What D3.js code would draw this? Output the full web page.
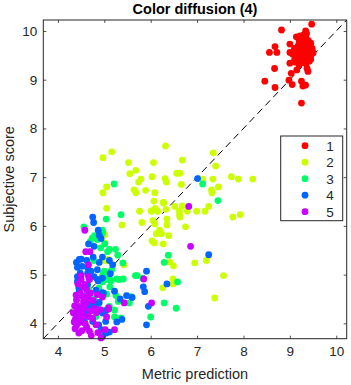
<!DOCTYPE html>
<html><head><meta charset="utf-8">
<script src="https://cdn.jsdelivr.net/npm/d3@7"></script>
<style>html,body{margin:0;padding:0;background:#fff;}svg{display:block;font-family:"Liberation Sans",Arial,sans-serif;}</style>
</head><body>
<svg id="chart" width="351" height="385"></svg>
<script>
const title = "Color diffusion (4)";
const xLabel = "Metric prediction";
const yLabel = "Subjective score";
const xTicks = [4,5,6,7,8,9,10];
const yTicks = [4,5,6,7,8,9,10];
const axisDomain = [3.685, 10.225];
const groupNames = ["1","2","3","4","5"];
const groupColors = ["#ff0000","#ccff00","#00ff66","#0066ff","#cc00ff"];

const g1x = [9.47,8.82,9.34,8.68,8.56,8.72,9.0,8.67,8.46,8.68,8.98,9.05,9.25,9.28,9.34,9.0,9.03,9.15,9.14,9.0,9.39,9.25,9.37,9.1,
 9.22,9.3,9.35,9.4,9.25,9.45,9.32,9.18,9.28,9.38,9.48,9.2,9.3,9.42,9.25,9.35,9.45,9.15,9.28,9.38,9.22,9.32,9.42,9.12,9.25,9.35,9.2,9.45,9.5,9.33,9.27,9.36,9.4,9.3,9.18,9.1,9.24,9.44,9.34,9.29,9.41,9.16,9.06,9.48,9.2];
const g1y = [10.14,10.02,10.0,9.68,9.56,9.56,9.73,9.23,8.97,8.84,8.99,8.90,8.52,8.87,8.89,9.34,9.13,9.2,9.88,9.56,9.17,8.97,9.23,9.4,
 9.9,9.92,9.85,9.8,9.78,9.75,9.72,9.7,9.68,9.66,9.64,9.62,9.6,9.58,9.55,9.53,9.5,9.5,9.48,9.45,9.43,9.4,9.38,9.36,9.35,9.32,9.3,9.42,9.55,9.62,9.82,9.95,9.7,9.5,9.58,9.64,9.66,9.68,9.77,9.42,9.48,9.44,9.52,9.6,9.8];

const g2x = [6.32,5.16,4.97,5.52,6.06,6.68,7.35,7.40,5.68,5.55,6.56,6.63,6.03,5.79,6.31,6.34,5.74,5.05,4.97,6.66,7.12,7.74,7.89,8.20,7.34,7.31,7.32,7.46,5.64,5.68,5.89,6.09,5.05,6.07,6.27,6.68,6.52,6.02,6.10,6.15,6.33,5.76,6.62,6.79,6.99,7.17,7.25,6.62,6.63,5.81,6.05,6.35,6.09,6.35,5.38,6.75,7.77,7.93,6.19,6.12,6.23,6.39,6.03,6.27,5.01,5.02,6.41,6.49,6.95,7.20,5.42,7.57,6.48,6.48,6.26,7.38,5.10,6.08,6.01,6.22,6.28,5.01,5.08];
const g2y = [7.64,7.52,7.40,7.30,7.30,7.35,7.50,7.23,7.14,7.07,7.08,7.08,7.01,6.96,6.97,6.90,6.90,6.80,6.68,6.85,6.96,7.01,6.96,6.96,6.96,6.74,6.68,6.80,6.74,6.68,6.73,6.68,6.36,6.51,6.48,6.41,6.40,6.30,6.36,6.30,6.34,6.30,6.30,6.30,6.30,6.30,6.40,6.23,6.18,6.07,6.11,6.14,6.04,6.02,6.02,5.98,6.18,6.23,5.91,5.84,5.84,5.80,5.69,5.63,5.82,5.28,5.26,5.18,5.24,5.29,5.20,4.98,4.91,4.81,4.73,4.52,5.29,5.65,6.31,5.85,6.47,5.65,5.31];

const g3x = [5.21,7.12,7.45,5.36,5.04,4.56,4.96,4.96,4.79,5.01,5.11,5.24,5.07,5.29,6.38,4.77,5.40,6.29,5.67,5.71,6.58,5.41,5.27,4.98,5.04,5.14,4.96,4.88,4.66,5.58,5.54,5.25,6.29,6.55,6.00,5.11,5.22,4.82,5.22,4.98,4.63,4.78,5.83,4.68,5.36,5.0,4.96,5.06,5.15,5.32,4.74,4.70,4.85,5.16,4.92,4.88,5.05,4.72,5.3,5.12];
const g3y = [6.86,6.86,6.52,6.23,6.14,5.98,5.91,5.85,5.80,5.63,5.52,5.52,5.47,5.40,5.40,5.29,5.24,5.25,4.98,4.98,4.85,4.91,4.91,5.03,4.96,4.87,4.85,4.72,4.68,4.55,4.42,4.57,4.42,4.31,4.13,4.35,4.27,4.14,4.13,4.27,4.21,4.50,4.92,4.91,4.11,5.07,4.97,4.90,4.88,4.90,5.75,5.68,5.72,5.10,5.55,4.4,4.6,4.35,4.45,4.75];

const g4x = [7.01,4.75,4.77,4.87,4.89,4.93,4.66,4.78,7.25,4.50,4.40,4.62,4.89,5.13,5.91,5.84,5.87,6.35,5.48,5.60,5.34,5.22,5.95,5.91,5.38,5.27,5.11,5.04,4.88,4.96,4.82,4.89,4.82,4.87,4.98,4.59,4.71,4.46,4.42,4.48,4.64,4.66,4.46,4.75,4.57,4.96,4.76,4.46,4.52,4.42,4.64,4.71,4.96,5.11,5.18,4.42,4.78,4.96,4.46,4.45,4.64,4.85,4.96,4.81,5.03,4.64,4.57,4.93,5.03,4.85];
const g4y = [6.97,6.18,6.07,5.91,5.81,5.74,5.63,5.58,5.41,5.32,5.25,5.29,5.25,5.02,5.07,4.75,4.65,4.81,4.57,4.53,4.50,4.66,4.35,3.97,4.08,4.03,3.82,3.80,3.97,4.21,4.32,4.43,4.68,4.87,4.62,4.55,4.42,4.66,4.86,5.03,5.03,4.35,4.11,4.04,4.01,3.73,5.36,5.31,5.17,5.15,5.14,5.07,5.36,5.29,5.20,4.96,4.96,4.93,4.90,4.73,4.79,4.90,4.63,4.36,4.26,4.24,4.04,3.87,4.04,5.1];

const g5x = [4.58,6.82,6.86,4.60,4.69,5.85,6.02,5.43,4.66,4.50,4.66,4.43,4.53,4.62,4.39,4.52,4.62,4.36,4.46,4.57,4.33,4.43,4.55,4.66,4.35,4.45,4.59,4.82,4.37,4.52,4.68,4.72,4.93,4.86,5.02,5.22,4.85,4.96,5.09,4.76,4.83,4.91,4.50,4.68,4.54,4.40,4.48,4.60,4.70,4.38,4.50,4.62,4.40,4.75,4.58,4.70,4.45,4.78,4.65,4.55,4.42,5.05,5.09];
const g5y = [5.91,6.40,5.58,5.47,5.47,4.91,4.42,4.42,5.20,4.98,4.96,4.81,4.75,4.68,4.58,4.56,4.49,4.36,4.35,4.32,4.22,4.18,4.16,4.14,4.03,4.01,3.99,3.97,3.89,3.85,3.84,3.75,3.70,3.81,3.87,3.87,4.59,4.54,4.29,4.47,4.22,4.28,4.90,4.90,4.26,4.48,4.62,4.40,4.25,4.10,4.08,3.92,3.95,4.10,4.80,4.62,3.80,4.30,4.55,4.45,4.28,4.13,4.32];

const groupsX = [g1x,g2x,g3x,g4x,g5x];
const groupsY = [g1y,g2y,g3y,g4y,g5y];

const svg = d3.select("#chart");
const L = 43.3, R = 346.7, T = 20, B = 338.7;
const x = d3.scaleLinear().domain(axisDomain).range([L, R]);
const y = d3.scaleLinear().domain(axisDomain).range([B, T]);
const axCol = "#262626";

svg.append("line")
  .attr("x1", x(axisDomain[0])).attr("y1", y(axisDomain[0]))
  .attr("x2", x(axisDomain[1])).attr("y2", y(axisDomain[1]))
  .attr("stroke", "#000").attr("stroke-width", 1).attr("stroke-dasharray", "7,4.5");

groupsX.forEach((gx, i) => {
  const gy = groupsY[i];
  svg.append("g").selectAll("circle").data(gx.map((v, j) => [v, gy[j]])).join("circle")
    .attr("cx", d => x(d[0])).attr("cy", d => y(d[1])).attr("r", 3.4)
    .attr("fill", groupColors[i]);
});

const tickLen = 3;
const xb = d3.axisBottom(x).tickValues(xTicks).tickSize(-tickLen).tickPadding(8).tickFormat(d3.format("d"));
const yl = d3.axisLeft(y).tickValues(yTicks).tickSize(-tickLen).tickPadding(6).tickFormat(d3.format("d"));
const xt = d3.axisTop(x).tickValues(xTicks).tickSize(-tickLen).tickFormat("");
const yr = d3.axisRight(y).tickValues(yTicks).tickSize(-tickLen).tickFormat("");
function style(g){
  g.selectAll(".domain").remove();
  g.selectAll("line").attr("stroke", axCol).attr("stroke-width", 0.8);
  g.selectAll("text").attr("fill", axCol).style("font-size", "13.5px").style("font-family", '"Liberation Sans",Arial,sans-serif');
}
svg.append("g").attr("transform", `translate(0,${B})`).call(xb).call(style);
svg.append("g").attr("transform", `translate(${L},0)`).call(yl).call(style);
svg.append("g").attr("transform", `translate(0,${T})`).call(xt).call(style);
svg.append("g").attr("transform", `translate(${R},0)`).call(yr).call(style);
svg.append("rect").attr("x", L).attr("y", T).attr("width", R - L).attr("height", B - T)
  .attr("fill", "none").attr("stroke", axCol).attr("stroke-width", 1);

svg.append("text").attr("x", (L + R) / 2).attr("y", 13.5).attr("text-anchor", "middle")
  .style("font-size", "14.5px").style("font-weight", "bold").attr("fill", "#000").text(title);
svg.append("text").attr("x", (L + R) / 2).attr("y", 379).attr("text-anchor", "middle")
  .style("font-size", "14.5px").attr("fill", axCol).text(xLabel);
svg.append("text").attr("transform", `translate(14,${(T + B) / 2}) rotate(-90)`).attr("text-anchor", "middle")
  .style("font-size", "14.5px").attr("fill", axCol).text(yLabel);

const lg = svg.append("g");
lg.append("rect").attr("x", 280.7).attr("y", 136).attr("width", 62).attr("height", 84.7)
  .attr("fill", "#fff").attr("stroke", axCol).attr("stroke-width", 1);
const ly = d3.scalePoint().domain(groupNames).range([145.7, 211.7]);
groupNames.forEach((n, i) => {
  lg.append("circle").attr("cx", 305).attr("cy", ly(n)).attr("r", 3.4).attr("fill", groupColors[i]);
  lg.append("text").attr("x", 330).attr("y", ly(n)).attr("dy", "0.36em").attr("text-anchor", "middle")
    .style("font-size", "13.5px").attr("fill", axCol).text(n);
});
</script>
</body></html>
